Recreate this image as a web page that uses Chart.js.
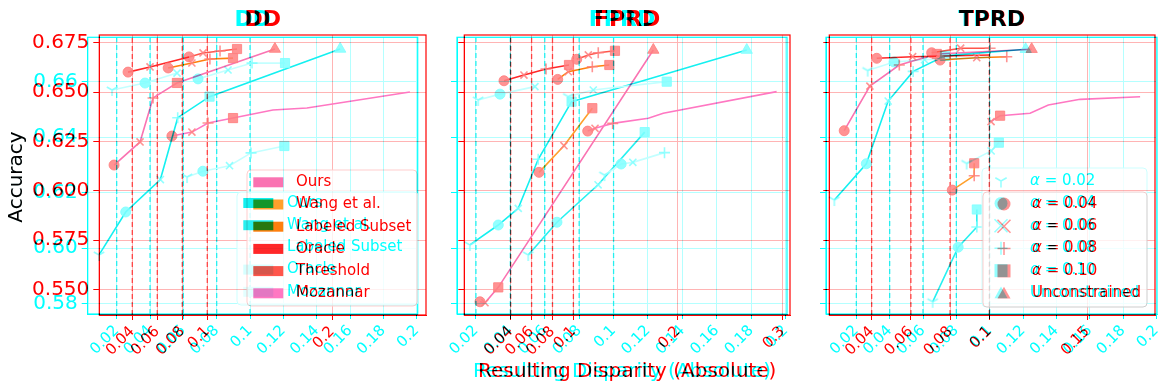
<!DOCTYPE html>
<html>
<head>
<meta charset="utf-8">
<title>Accuracy vs. resulting disparity</title>
<script src="https://cdn.jsdelivr.net/npm/chart.js@4.4.1/dist/chart.umd.min.js"></script>
<style>
  html, body { margin: 0; padding: 0; background: #fff; }
  #stage { position: relative; width: 1158px; height: 389px; overflow: hidden; background: #fff; }
  /* two colour-separated views of each panel, combined by multiplying */
  #stage canvas { position: absolute; left: 0; top: 0; mix-blend-mode: multiply; }
</style>
</head>
<body>
<div id="stage">
  <canvas id="dd-c" width="1240" height="389"></canvas>
  <canvas id="dd-r" width="1240" height="389"></canvas>
  <canvas id="fp-c" width="1240" height="389"></canvas>
  <canvas id="fp-r" width="1240" height="389"></canvas>
  <canvas id="tp-c" width="1240" height="389"></canvas>
  <canvas id="tp-r" width="1240" height="389"></canvas>
</div>
<script>
Chart.defaults.font.family = '"DejaVu Sans", sans-serif';

// ---- ticks ----
const yTicksRed  = [0.550, 0.575, 0.600, 0.625, 0.650, 0.675];
const yTicksCyan = [0.58, 0.60, 0.62, 0.64, 0.66];
const xTicksCyan = [0.02, 0.04, 0.06, 0.08, 0.10, 0.12, 0.14, 0.16, 0.18, 0.20];
const xTicksRedDD   = [0.04, 0.06, 0.08, 0.1, 0.2];
const xTicksRedFPRD = [0.04, 0.06, 0.08, 0.1, 0.2, 0.3];
const xTicksRedTPRD = [0.04, 0.06, 0.08, 0.1, 0.15];

// α constraint levels (dashed verticals)
const alphasCyan = [0.02, 0.04, 0.06, 0.08, 0.10];
const alphasRed  = [0.04, 0.06, 0.08, 0.10];

// ---- DD ----
const ddOurs      = [[0.0254, 0.6130], [0.0462, 0.6247], [0.0566, 0.6470], [0.0757, 0.6546], [0.1541, 0.6718]];
const ddMozannar  = [[0.0717, 0.6277], [0.0877, 0.6297], [0.1006, 0.6343], [0.1206, 0.6368], [0.1525, 0.6409], [0.1797, 0.6419], [0.2621, 0.6500]];
const ddOracle    = [[0.0366, 0.6601], [0.0542, 0.6627], [0.0854, 0.6678]];
const ddThreshold = [[0.0854, 0.6678], [0.0966, 0.6698], [0.1102, 0.6708], [0.1238, 0.6718]];
const ddLabeled   = [[0.0687, 0.6622], [0.0877, 0.6647], [0.1021, 0.6667], [0.1206, 0.6672]];
const ddOursC     = [[0.0094, 0.5975], ...ddOurs];
const ddMozannarC = [[0.0622, 0.6256], ...ddMozannar.slice(0, 4)];
const ddOracleC   = [[0.0172, 0.6570], [0.0370, 0.6595], [0.0562, 0.6631]];
const ddLabeledC  = [[0.0688, 0.6610], [0.0868, 0.6642], [0.1012, 0.6667], [0.1210, 0.6667]];

// ---- FPRD ----
const fpOurs      = [[0.0106, 0.5437], [0.0154, 0.5432], [0.0281, 0.5510], [0.1765, 0.6713]];
const fpMozannar  = [[0.1137, 0.6302], [0.1207, 0.6316], [0.1376, 0.6341], [0.1717, 0.6367], [0.1860, 0.6392], [0.2945, 0.6502]];
const fpOracle    = [[0.0336, 0.6557], [0.0527, 0.6586], [0.0738, 0.6617], [0.0958, 0.6637]];
const fpThreshold = [[0.1032, 0.6666], [0.1143, 0.6688], [0.1238, 0.6699], [0.1398, 0.6709]];
const fpLabeled   = [[0.0850, 0.6564], [0.0951, 0.6603], [0.1181, 0.6628], [0.1344, 0.6637]];
const fpWang      = [[0.0671, 0.6093], [0.0910, 0.6228], [0.1181, 0.6418]];
const fpOursC     = [[0.0165, 0.6011], [0.0330, 0.6083], [0.0446, 0.6143], [0.0562, 0.6320], [0.0756, 0.6528], [0.0989, 0.6570], [0.1774, 0.6714]];
const fpWangC     = [[0.0504, 0.5975], ...fpWang];
const fpOracleC   = [[0.0213, 0.6534], [0.0340, 0.6555], [0.0543, 0.6582]];
const fpLabeledC  = [[0.0737, 0.6546], [0.0882, 0.6570], [0.1309, 0.6600]];
const fpMozannarC = [[0.0947, 0.6263], [0.1044, 0.6303], [0.1112, 0.6309], [0.1296, 0.6344]];

// ---- TPRD ----
const tpOurs      = [[0.0260, 0.6304], [0.0391, 0.6530], [0.0541, 0.6637], [0.0732, 0.6693], [0.1216, 0.6717]];
const tpOracle    = [[0.0426, 0.6671], [0.0609, 0.6679], [0.1004, 0.6688]];
const tpThreshold = [[0.0706, 0.6699], [0.0854, 0.6722], [0.1004, 0.6722]];
const tpLabeled   = [[0.0749, 0.6662], [0.0936, 0.6674], [0.1089, 0.6679]];
const tpWang      = [[0.0811, 0.6003], [0.0923, 0.6076], [0.0923, 0.6139]];
const tpMozannar  = [[0.1009, 0.6350], [0.1055, 0.6380], [0.1208, 0.6392], [0.1301, 0.6434], [0.1463, 0.6463], [0.1769, 0.6476]];
const tpOursC     = [[0.0068, 0.6173], ...tpOurs];
const tpWangC     = [[0.0658, 0.5806], ...tpWang];
const tpMozannarC = [[0.0862, 0.6305], ...tpMozannar.slice(0, 2)];
const tpOracleC   = [[0.0268, 0.6640], ...tpOracle];

// legend entries
const methodsRed  = ['Ours', 'Wang et al.', 'Labeled Subset', 'Oracle', 'Threshold', 'Mozannar'];
const methodsCyan = ['Ours', 'Wang et al.', 'Labeled Subset', 'Oracle', 'Mozannar'];
const levelsRed   = ['α = 0.04', 'α = 0.06', 'α = 0.08', 'α = 0.10', 'Unconstrained'];
const levelsCyan  = ['α = 0.02', 'α = 0.04', 'α = 0.06', 'α = 0.08', 'α = 0.10', 'Unconstrained'];

// ---- colours ----
const RED = {
  ink: '#ff0000', grid: 'rgb(255,180,180)', dash: 'rgba(255,35,35,0.8)',
  marker: 'rgba(255,128,128,0.85)', edge: 'rgb(255,205,205)',
  ours: 'rgb(250,115,178)', wang: 'rgb(255,160,44)', labeled: 'rgb(255,127,14)',
  oracle: 'rgb(255,39,40)', threshold: 'rgb(255,86,75)', mozannar: 'rgb(255,119,194)'
};
const CYAN = {
  ink: '#00ffff', grid: 'rgb(180,255,255)', dash: 'rgba(0,235,235,0.8)',
  marker: 'rgba(128,255,255,0.85)', edge: 'rgb(205,255,255)',
  ours: 'rgb(20,240,240)', wang: 'rgb(40,240,240)', labeled: 'rgb(195,255,255)',
  oracle: 'rgb(195,255,255)', mozannar: 'rgb(195,255,255)'
};

function drawMark(ctx, kind, x, y, r, color) {
  ctx.save();
  ctx.fillStyle = color; ctx.strokeStyle = color; ctx.lineWidth = 1.5;
  ctx.beginPath();
  if (kind === 'o') { ctx.arc(x, y, r, 0, Math.PI * 2); ctx.fill(); }
  else if (kind === 's') { ctx.fillRect(x - r, y - r, 2 * r, 2 * r); }
  else if (kind === '^') { ctx.moveTo(x, y - r); ctx.lineTo(x + r, y + r * 0.8); ctx.lineTo(x - r, y + r * 0.8); ctx.closePath(); ctx.fill(); }
  else if (kind === 'x') { ctx.moveTo(x - r, y - r); ctx.lineTo(x + r, y + r); ctx.moveTo(x + r, y - r); ctx.lineTo(x - r, y + r); ctx.stroke(); }
  else if (kind === '+') { ctx.moveTo(x - r, y); ctx.lineTo(x + r, y); ctx.moveTo(x, y - r); ctx.lineTo(x, y + r); ctx.stroke(); }
  else if (kind === 'y') {
    ctx.moveTo(x, y); ctx.lineTo(x, y + r);
    ctx.moveTo(x, y); ctx.lineTo(x - r * 0.87, y - r * 0.5);
    ctx.moveTo(x, y); ctx.lineTo(x + r * 0.87, y - r * 0.5);
    ctx.stroke();
  }
  ctx.restore();
}

// tri_down marker as an image point style
function triImage(color) {
  const c = document.createElement('canvas');
  c.width = 14; c.height = 14;
  drawMark(c.getContext('2d'), 'y', 7, 7, 6, color);
  return c;
}

function pointStyles(marks, pal) {
  const tri = triImage(pal.marker);
  const style = { o: 'circle', x: 'crossRot', '+': 'cross', s: 'rect', '^': 'triangle', y: tri, '-': 'circle' };
  const radius = { o: 5, x: 5, '+': 5.5, s: 6.5, '^': 6.5, y: 6, '-': 0 };
  return {
    pointStyle: marks.map(m => style[m]),
    pointRadius: marks.map(m => radius[m]),
    pointBorderWidth: marks.map(m => (m === 'x' || m === '+') ? 1.6 : 1)
  };
}

function drawLegend(ctx, lg, ink) {
  const [x0, y0, x1, y1] = lg.box;
  ctx.save();
  ctx.fillStyle = 'rgba(255,255,255,0.8)';
  ctx.strokeStyle = lg.edge; ctx.lineWidth = 1;
  ctx.beginPath(); ctx.roundRect(x0, y0, x1 - x0, y1 - y0, 4); ctx.fill(); ctx.stroke();
  ctx.textBaseline = 'middle'; ctx.textAlign = 'left';
  lg.labels.forEach((label, i) => {
    const y = lg.rowY + i * lg.step;
    if (lg.patches) {
      if (lg.patches[i]) { ctx.fillStyle = lg.patches[i]; ctx.fillRect(lg.markX, y - 5, 30, 10); }
    } else {
      drawMark(ctx, lg.marks[i], lg.markX, y, 6.5, lg.markColor);
    }
    ctx.fillStyle = ink;
    if (label.startsWith('α')) {
      // α set in italic like math text
      ctx.font = 'italic 15px "DejaVu Sans"';
      ctx.fillText('α', lg.textX, y);
      const w = ctx.measureText('α').width;
      ctx.font = '15px "DejaVu Sans"';
      ctx.fillText(label.slice(1), lg.textX + w, y);
    } else {
      ctx.font = '15px "DejaVu Sans"';
      ctx.fillText(label, lg.textX, y);
    }
  });
  ctx.restore();
}

// frame, titles and legend drawn over the plot
const panelDecor = {
  id: 'panelDecor',
  afterDraw(chart, _args, o) {
    const { ctx, chartArea: a } = chart;
    const cx = (a.left + a.right) / 2;
    ctx.save();
    ctx.strokeStyle = o.ink; ctx.lineWidth = 1.2;
    ctx.strokeRect(a.left, a.top, a.right - a.left, a.bottom - a.top);
    ctx.fillStyle = o.ink; ctx.textAlign = 'center'; ctx.textBaseline = 'middle';
    ctx.font = 'bold 22px "DejaVu Sans"';
    ctx.fillText(o.title, cx, 20);
    if (o.xTitle) { ctx.font = '20px "DejaVu Sans"'; ctx.fillText(o.xTitle, cx, 372); }
    if (o.yTitle) {
      ctx.translate(17, 177); ctx.rotate(-Math.PI / 2);
      ctx.font = '20px "DejaVu Sans"'; ctx.fillText(o.yTitle, 0, 0);
    }
    ctx.restore();
    if (o.legend) drawLegend(ctx, o.legend, o.ink);
  }
};

function buildLayer(L) {
  const pal = L.pal;
  const datasets = [];
  L.alphas.forEach(a => datasets.push({
    data: [{ x: a, y: L.yRange[0] }, { x: a, y: L.yRange[1] }],
    showLine: true, borderColor: pal.dash, borderWidth: 1.3, borderDash: [5, 3],
    pointRadius: 0, order: 10
  }));
  L.series.forEach(s => datasets.push(Object.assign({
    data: s.data.map(([x, y]) => ({ x, y })),
    showLine: true, borderColor: s.color, borderWidth: 1.6,
    pointBackgroundColor: pal.marker, pointBorderColor: pal.marker, order: 1
  }, pointStyles(s.marks, pal))));

  const W = 1240, H = 389, wy = L.yLabels ? 70 : 12, hx = 50;
  const f = L.frame;
  new Chart(document.getElementById(L.id), {
    type: 'scatter',
    data: { datasets },
    options: {
      responsive: false, animation: false, events: [],
      layout: { padding: { left: f.l - wy, right: W - f.r, top: f.t, bottom: H - f.b - hx } },
      plugins: {
        legend: { display: false }, tooltip: { enabled: false }, title: { display: false },
        panelDecor: { ink: pal.ink, title: L.title, xTitle: L.xTitle, yTitle: L.yTitle, legend: L.legend }
      },
      scales: {
        x: {
          type: 'linear', min: L.xRange[0], max: L.xRange[1],
          afterBuildTicks: s => { s.ticks = L.xTicks.map(v => ({ value: v })); },
          afterFit: s => { s.height = hx; },
          ticks: {
            color: pal.ink, font: { size: 15 }, autoSkip: false,
            minRotation: 45, maxRotation: 45, padding: 3,
            callback: v => String(+v.toFixed(3))
          },
          grid: { color: pal.grid, tickColor: pal.ink, tickLength: 5 },
          border: { color: pal.ink }
        },
        y: {
          type: 'linear', min: L.yRange[0], max: L.yRange[1],
          afterBuildTicks: s => { s.ticks = L.yTicks.map(v => ({ value: v })); },
          afterFit: s => { s.width = wy; },
          ticks: {
            display: L.yLabels, color: pal.ink, font: { size: 20 }, padding: 4, autoSkip: false,
            callback: v => v.toFixed(L.yDigits)
          },
          grid: { color: pal.grid, tickColor: pal.ink, tickLength: 6 },
          border: { color: pal.ink }
        }
      }
    },
    plugins: [panelDecor]
  });
}

const yRangeRed  = [0.5370, 0.6789];
const yRangeCyan = [0.5762, 0.6760];

const layers = [
  {
    id: 'dd-c', pal: CYAN, title: 'DD', yTitle: 'Accuracy',
    frame: { l: 87.7, r: 417.7, t: 37.3, b: 314 },
    xRange: [0.0026, 0.2006], yRange: yRangeCyan, xTicks: xTicksCyan, yTicks: yTicksCyan,
    yDigits: 2, yLabels: true, alphas: alphasCyan,
    series: [
      { data: ddOracleC, color: CYAN.oracle, marks: ['y', 'o', 'x'] },
      { data: ddLabeledC, color: CYAN.labeled, marks: ['o', 'x', '+', 's'] },
      { data: ddMozannarC, color: CYAN.mozannar, marks: ['y', 'o', 'x', '+', 's'] },
      { data: ddOursC, color: CYAN.ours, marks: ['y', 'o', 'x', '+', 's', '^'] }
    ],
    legend: {
      box: [237, 192, 418, 305], rowY: 203, step: 22.2, markX: 243.3, textX: 287, edge: CYAN.edge,
      labels: methodsCyan, patches: [CYAN.ours, CYAN.wang, null, 'rgb(214,255,255)', 'rgb(227,255,255)']
    }
  },
  {
    id: 'dd-r', pal: RED, title: 'DD', yTitle: 'Accuracy',
    frame: { l: 99.3, r: 426, t: 35, b: 315 },
    xRange: [0.0136, 0.2750], yRange: yRangeRed, xTicks: xTicksRedDD, yTicks: yTicksRed,
    yDigits: 3, yLabels: true, alphas: alphasRed,
    series: [
      { data: ddMozannar, color: RED.mozannar, marks: ['o', 'x', '+', 's', '-', '-', '-'] },
      { data: ddLabeled, color: RED.labeled, marks: ['o', 'x', '+', 's'] },
      { data: ddOracle, color: RED.oracle, marks: ['o', 'x', '-'] },
      { data: ddThreshold, color: RED.threshold, marks: ['o', 'x', '+', 's'] },
      { data: ddOurs, color: RED.ours, marks: ['o', 'x', '+', 's', '^'] }
    ],
    legend: {
      box: [247, 170, 417, 306], rowY: 182.3, step: 22.2, markX: 253.3, textX: 296, edge: RED.edge,
      labels: methodsRed, patches: [RED.ours, RED.wang, RED.labeled, RED.oracle, RED.threshold, RED.mozannar]
    }
  },
  {
    id: 'fp-c', pal: CYAN, title: 'FPRD', xTitle: 'Resulting Disparity (Absolute)',
    frame: { l: 457, r: 787, t: 37.3, b: 314 },
    xRange: [0.0090, 0.2008], yRange: yRangeCyan, xTicks: xTicksCyan, yTicks: yTicksCyan,
    yDigits: 2, yLabels: false, alphas: alphasCyan,
    series: [
      { data: fpOracleC, color: CYAN.oracle, marks: ['y', 'o', 'x'] },
      { data: fpLabeledC, color: CYAN.labeled, marks: ['y', 'x', 's'] },
      { data: fpMozannarC, color: CYAN.mozannar, marks: ['y', 'o', 'x', '+'] },
      { data: fpWangC, color: CYAN.wang, marks: ['y', 'o', 'x', 's'] },
      { data: fpOursC, color: CYAN.ours, marks: ['y', 'o', 'x', '+', 's', '-', '^'] }
    ]
  },
  {
    id: 'fp-r', pal: RED, title: 'FPRD', xTitle: 'Resulting Disparity (Absolute)',
    frame: { l: 464.3, r: 790, t: 35, b: 315 },
    xRange: [-0.0044, 0.3073], yRange: yRangeRed, xTicks: xTicksRedFPRD, yTicks: yTicksRed,
    yDigits: 3, yLabels: false, alphas: alphasRed,
    series: [
      { data: fpMozannar, color: RED.mozannar, marks: ['o', 'x', '+', '-', '-', '-'] },
      { data: fpWang, color: RED.wang, marks: ['o', 'x', 's'] },
      { data: fpLabeled, color: RED.labeled, marks: ['o', 'x', '+', 's'] },
      { data: fpOracle, color: RED.oracle, marks: ['o', 'x', '+', 's'] },
      { data: fpThreshold, color: RED.threshold, marks: ['o', 'x', '+', 's'] },
      { data: fpOurs, color: RED.ours, marks: ['o', 'x', 's', '^'] }
    ]
  },
  {
    id: 'tp-c', pal: CYAN, title: 'TPRD',
    frame: { l: 826, r: 1157, t: 37.3, b: 314 },
    xRange: [0.0018, 0.2004], yRange: yRangeCyan, xTicks: xTicksCyan, yTicks: yTicksCyan,
    yDigits: 2, yLabels: false, alphas: alphasCyan,
    series: [
      { data: tpOracleC, color: CYAN.oracle, marks: ['y', 'o', 'x', '-'] },
      { data: tpMozannarC, color: CYAN.mozannar, marks: ['y', 'x', 's'] },
      { data: tpWangC, color: CYAN.wang, marks: ['y', 'o', '+', 's'] },
      { data: tpOursC, color: CYAN.ours, marks: ['y', 'o', 'x', '+', 's', '^'] }
    ],
    legend: {
      box: [982, 168, 1147, 307], rowY: 181, step: 22.4, markX: 1001, textX: 1030, edge: CYAN.edge,
      labels: levelsCyan, marks: ['y', 'o', 'x', '+', 's', '^'], markColor: CYAN.marker
    }
  },
  {
    id: 'tp-r', pal: RED, title: 'TPRD',
    frame: { l: 829.3, r: 1155, t: 35, b: 315 },
    xRange: [0.0184, 0.1845], yRange: yRangeRed, xTicks: xTicksRedTPRD, yTicks: yTicksRed,
    yDigits: 3, yLabels: false, alphas: alphasRed,
    series: [
      { data: tpMozannar, color: RED.mozannar, marks: ['x', 's', '-', '-', '-', '-'] },
      { data: tpWang, color: RED.wang, marks: ['o', '+', 's'] },
      { data: tpLabeled, color: RED.labeled, marks: ['o', 'x', '+'] },
      { data: tpOracle, color: RED.oracle, marks: ['o', 'x', '-'] },
      { data: tpThreshold, color: RED.threshold, marks: ['o', 'x', '+'] },
      { data: tpOurs, color: RED.ours, marks: ['o', 'x', '+', 's', '^'] }
    ],
    legend: {
      box: [983, 192, 1147, 307], rowY: 204, step: 22.3, markX: 1004, textX: 1032, edge: RED.edge,
      labels: levelsRed, marks: ['o', 'x', '+', 's', '^'], markColor: RED.marker
    }
  }
];

layers.forEach(buildLayer);
</script>
</body>
</html>
